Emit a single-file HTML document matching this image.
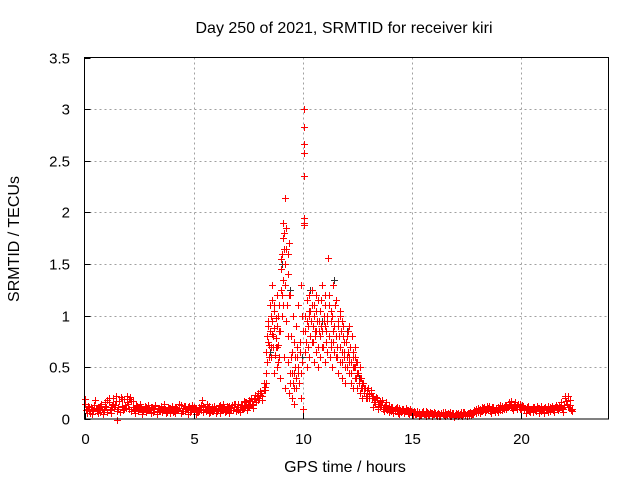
<!DOCTYPE html>
<html><head><meta charset="utf-8"><style>
html,body{margin:0;padding:0;background:#fff}
svg{display:block;font-family:"Liberation Sans",Arial,sans-serif}
</style></head><body>
<svg id="chart" width="640" height="480" viewBox="0 0 640 480" xmlns="http://www.w3.org/2000/svg">
<rect width="640" height="480" fill="#fff"/>
<g id="grid"></g>
<g id="marks"></g>
<rect x="84.5" y="57.5" width="524" height="361.5" fill="none" stroke="#000" stroke-width="1"/>
<g id="ticks"></g>
<text x="344" y="33" font-size="16" text-anchor="middle">Day 250 of 2021, SRMTID for receiver kiri</text>
<text x="345" y="472" font-size="16" text-anchor="middle">GPS time / hours</text>
<text x="19" y="239" font-size="16" text-anchor="middle" transform="rotate(-90 19 239)">SRMTID / TECUs</text>
</svg>
<script>
const xTicks=[0,5,10,15,20];
const yTicks=[0,0.5,1,1.5,2,2.5,3,3.5];
const yTickLabels=["0","0.5","1","1.5","2","2.5","3","3.5"];
const quietStep=0.1;
const quietA=[.15,.10,.08,.12,.09,.18,.11,.07,.10,.09,
.12,.16,.10,.20,.14,.08,.17,.13,.19,.11,
.15,.21,.12,.09,.13,.10,.11,.08,.12,.10,
.09,.12,.10,.08,.11,.13,.09,.10,.07,.11,
.10,.08,.12,.09,.14,.11,.08,.10,.13,.09,
.08,.11,.07,.10,.18,.12,.09,.13,.10,.08,
.11,.09,.14,.10,.12,.08,.13,.11,.09,.15,
.12,.10,.14,.11,.16,.13,.17,.15,.19,.22,
.20,.25,.28,null,null,null,null,null,null,null,
null,null,null,null,null,null,null,null,null,null,
null,null,null,null,null,null,null,null,null,null,
null,null,null,null,null,null,null,null,null,null,
null,null,null,null,null,null,null,null,null,null,
.30,.25,.22,.18,.20,.15,.14,.12,.16,.11,
.10,.12,.08,.09,.11,.07,.10,.08,.09,.07,
.06,.08,.05,.07,.04,.06,.05,.07,.04,.06,
.05,.04,.06,.03,.05,.07,.04,.05,.03,.06,
.04,.06,.05,.03,.07,.05,.04,.06,.05,.08,
.07,.10,.08,.12,.09,.11,.08,.10,.07,.09,
.11,.13,.10,.14,.12,.15,.11,.16,.13,.12,
.10,.13,.09,.11,.07,.10,.12,.08,.11,.13,
.09,.12,.10,.08,.13,.11,.14,.09,.12,.10,
.20,.15,.12,.09];
const quietB=[.09,.13,.06,.10,.14,.08,.12,.15,.07,.13,
.18,.09,.14,.12,.17,.10,.21,.09,.14,.16,
.10,.17,.09,.14,.08,.12,.07,.13,.09,.11,
.12,.07,.13,.10,.09,.07,.12,.08,.11,.09,
.07,.12,.09,.11,.08,.13,.10,.12,.07,.11,
.10,.07,.12,.09,.13,.08,.11,.07,.12,.10,
.08,.13,.09,.11,.07,.12,.09,.14,.12,.10,
.09,.14,.11,.16,.12,.18,.14,.20,.16,.25,
.23,.18,.31,null,null,null,null,null,null,null,
null,null,null,null,null,null,null,null,null,null,
null,null,null,null,null,null,null,null,null,null,
null,null,null,null,null,null,null,null,null,null,
null,null,null,null,null,null,null,null,null,null,
.24,.20,.16,.21,.13,.17,.10,.14,.09,.13,
.08,.09,.11,.06,.08,.10,.06,.09,.05,.08,
.07,.05,.06,.04,.07,.05,.08,.04,.06,.05,
.06,.03,.05,.06,.04,.05,.06,.03,.05,.04,
.05,.04,.07,.05,.04,.06,.07,.05,.09,.06,
.09,.08,.11,.09,.13,.08,.12,.09,.11,.12,
.09,.11,.14,.12,.16,.13,.14,.12,.15,.10,
.12,.09,.12,.08,.10,.12,.09,.11,.09,.10,
.11,.09,.13,.11,.09,.12,.10,.13,.11,.14,
.17,.22,.14,.08];
const quietC=[.19,.06,.12,.05,.14,.11,.06,.13,.05,.16,
.07,.20,.06,.15,.22,.12,.07,.19,.10,.22,
.19,.08,.17,.06,.11,.15,.05,.10,.07,.14,
.06,.10,.14,.05,.08,.10,.15,.06,.12,.06,
.13,.06,.10,.15,.06,.08,.13,.05,.09,.14,
.12,.05,.09,.14,.07,.10,.15,.06,.08,.13,
.06,.11,.06,.15,.09,.13,.06,.09,.15,.08,
.15,.07,.10,.17,.09,.12,.20,.11,.23,.18,
.27,.22,.35,null,null,null,null,null,null,null,
null,null,null,null,null,null,null,null,null,null,
null,null,null,null,null,null,null,null,null,null,
null,null,null,null,null,null,null,null,null,null,
null,null,null,null,null,null,null,null,null,null,
.20,.28,.12,.16,.10,.12,.18,.08,.12,.07,
.12,.06,.10,.12,.05,.09,.07,.11,.06,.10,
.04,.07,.08,.03,.05,.08,.03,.06,.07,.03,
.07,.05,.03,.06,.07,.03,.05,.07,.06,.02,
.06,.03,.04,.07,.05,.03,.06,.04,.07,.10,
.11,.06,.12,.07,.10,.13,.06,.12,.10,.07,
.14,.09,.12,.10,.13,.17,.09,.13,.10,.15,
.14,.10,.06,.13,.10,.07,.09,.13,.06,.08,
.06,.10,.07,.12,.10,.07,.12,.11,.16,.07,
.22,.12,.18,.10];
const stormT=[8.3,8.35,8.4,8.4,8.45,8.5,8.5,8.55,8.6,8.6,8.65,8.7,8.7,8.75,8.8,8.8,8.85,8.9,8.9,8.95,
9.0,9.0,9.05,9.05,9.1,9.1,9.15,9.15,9.2,9.2,9.2,9.25,9.25,9.3,9.3,9.35,9.35,9.4,9.4,9.45,
9.5,9.5,9.55,9.55,9.6,9.6,9.65,9.7,9.7,9.75,9.8,9.8,9.85,9.9,9.9,9.95,10.0,10.0,10.05,10.05,
10.05,10.05,10.05,10.05,10.05,10.05,10.1,10.1,10.15,10.2,10.2,10.25,10.3,10.3,10.35,10.4,10.4,10.45,10.5,10.5,
10.55,10.6,10.6,10.65,10.7,10.7,10.75,10.8,10.8,10.85,10.9,10.9,10.95,11.0,11.0,11.05,11.1,11.1,11.15,11.2,
11.2,11.25,11.3,11.3,11.35,11.4,11.4,11.45,11.5,11.5,11.55,11.6,11.6,11.65,11.7,11.7,11.75,11.8,11.8,11.85,
11.9,11.9,11.95,12.0,12.0,12.05,12.1,12.1,12.15,12.2,12.2,12.25,12.3,12.3,12.35,12.4,12.4,12.45,12.5,12.5,
12.55,12.6,12.6,12.65,12.7,12.7,12.75,12.8,12.85,12.9,8.6,8.7,8.8,9.0,9.1,9.6,9.7,10.3,10.6,11.0,11.3,11.8,12.1,12.4,1.5];
const stormV=[0.35,0.55,0.75,0.9,0.6,0.85,1.1,0.7,0.95,1.15,0.8,0.45,1.05,0.7,0.9,1.2,0.55,0.85,1.1,0.4,
1.25,1.45,1.0,1.6,1.35,1.75,0.6,1.65,2.14,1.5,0.3,1.85,0.95,1.4,0.55,1.7,0.25,0.45,1.2,0.8,
0.2,0.65,1.0,0.35,0.75,0.15,0.5,0.9,0.3,0.6,1.1,0.45,0.75,0.2,1.3,0.55,0.1,0.85,3.0,2.83,
2.66,2.58,2.35,1.95,1.9,1.88,0.65,1.0,0.75,1.15,0.5,0.9,1.2,0.6,1.05,0.75,1.25,0.9,0.55,1.1,
0.8,1.2,0.65,0.95,0.5,1.15,0.85,1.05,0.6,0.9,1.3,0.7,0.95,1.1,0.55,0.85,1.0,0.65,1.56,0.8,
1.2,0.6,0.95,1.05,0.5,0.75,1.3,0.9,0.6,1.15,0.7,0.95,0.45,0.8,1.05,0.55,0.85,0.65,0.4,0.9,
0.6,0.75,0.35,0.8,0.5,0.65,0.9,0.45,0.7,0.55,0.35,0.8,0.6,0.3,0.5,0.7,0.4,0.55,0.3,0.45,
0.35,0.5,0.25,0.4,0.3,0.2,0.35,0.25,0.3,0.2,1.3,1.05,0.7,1.55,1.1,0.45,0.9,1.0,0.85,1.2,0.75,0.95,0.6,0.5,-0.01];
const stormT2=[8.25,8.3,8.33,8.38,8.42,8.47,8.52,8.56,8.58,8.62,8.66,8.68,8.72,8.76,8.78,8.82,8.86,8.88,8.92,8.96,
9.02,9.06,9.12,9.18,9.22,9.28,9.32,9.38,9.42,9.48,9.52,9.58,9.62,9.68,9.72,9.78,9.82,9.88,9.92,9.98,
10.12,10.18,10.22,10.28,10.32,10.38,10.42,10.48,10.52,10.58,10.62,10.68,10.72,10.78,10.82,10.88,10.92,10.98,11.02,11.08,
11.12,11.18,11.22,11.28,11.32,11.38,11.42,11.48,11.52,11.58,11.62,11.68,11.72,11.78,11.82,11.88,11.92,11.98,12.02,12.08,
12.12,12.18,12.22,12.28,12.32,12.38,12.42,12.48,12.52,12.58,12.62,12.68,12.72,12.78,12.82,12.88,12.92,12.96,9.1,9.3];
const stormV2=[0.28,0.45,0.65,0.8,0.95,0.72,0.6,1.0,0.82,0.7,1.1,0.88,0.62,0.98,0.78,0.5,1.0,0.72,0.6,0.85,
1.55,1.2,1.8,1.3,1.65,1.1,0.8,1.2,0.35,0.6,0.45,0.3,0.6,0.4,0.7,0.5,0.35,0.65,0.45,1.0,
0.85,0.95,0.7,1.05,0.8,0.95,1.1,0.75,1.0,0.85,1.05,0.7,0.95,0.8,1.15,0.85,0.7,1.0,0.9,0.75,
0.95,1.1,0.8,0.7,1.0,0.85,0.65,1.1,0.8,0.6,0.9,0.7,1.0,0.55,0.8,0.65,0.5,0.75,0.6,0.85,
0.55,0.7,0.45,0.65,0.5,0.6,0.4,0.55,0.45,0.35,0.4,0.3,0.35,0.25,0.3,0.22,0.28,0.2,1.9,1.6];
const X0=84.5,X1=608.5,Y0=419,Y1=57.5,XMAX=24,YMAX=3.5;
const xs=v=>X0+(X1-X0)*v/XMAX;
const ys=v=>Y0-(Y0-Y1)*v/YMAX;
const NS="http://www.w3.org/2000/svg";
const grid=document.getElementById('grid'),ticks=document.getElementById('ticks'),marks=document.getElementById('marks');
function mk(tag,attrs,parent){const e=document.createElementNS(NS,tag);for(const k in attrs)e.setAttribute(k,attrs[k]);parent.appendChild(e);return e;}
xTicks.forEach(v=>{const x=Math.round(xs(v))+0.5;
 if(v>0){const g=mk('line',{x1:x,x2:x,y1:Y1,y2:Y0,stroke:'#a0a0a0','stroke-dasharray':'2,3'},grid);
 
 }
 const t=mk('text',{x:x,y:444,'font-size':15,'text-anchor':'middle'},ticks);t.textContent=v;
 
 
 const l=mk('line',{x1:x,x2:x,y1:Y0,y2:Y0-6,stroke:'#000'},ticks);
 
 });
yTicks.forEach((v,i)=>{const y=Math.round(ys(v))+0.5;
 if(v>0&&v<3.5){const g=mk('line',{x1:X0,x2:X1,y1:y,y2:y,stroke:'#a0a0a0','stroke-dasharray':'2,3'},grid);
 
 }
 const t=mk('text',{x:70,y:y+5,'font-size':15,'text-anchor':'end'},ticks);t.textContent=yTickLabels[i];
 
 
 const l=mk('line',{x1:X0,x2:X0+6,y1:y,y2:y,stroke:'#000'},ticks);
 
 });
let d='',dg='';
function plus(t,v){const x=Math.round(xs(t))+0.5,y=Math.round(ys(v))+0.5;return `M${x-3.5} ${y}h7M${x} ${y-3.5}v7`;}
quietA.forEach((v,i)=>{if(v!==null)d+=plus(i*quietStep,v);});
quietB.forEach((v,i)=>{if(v!==null)d+=plus(i*quietStep+0.05,v);});
quietC.forEach((v,i)=>{if(v!==null)d+=plus(i*quietStep+0.025,v);});
stormT.forEach((t,i)=>{if(i%17===4&&stormV[i]<2.5)dg+=plus(t+0.03,stormV[i]+0.05);d+=plus(t,stormV[i]);});
stormT2.forEach((t,i)=>{d+=plus(t,stormV2[i]);});
const pg=mk('path',{d:dg,stroke:'#333',fill:'none','stroke-width':1},marks);


const p=mk('path',{d:d,stroke:'#ff0000',fill:'none','stroke-width':1},marks);


</script>
</body></html>
